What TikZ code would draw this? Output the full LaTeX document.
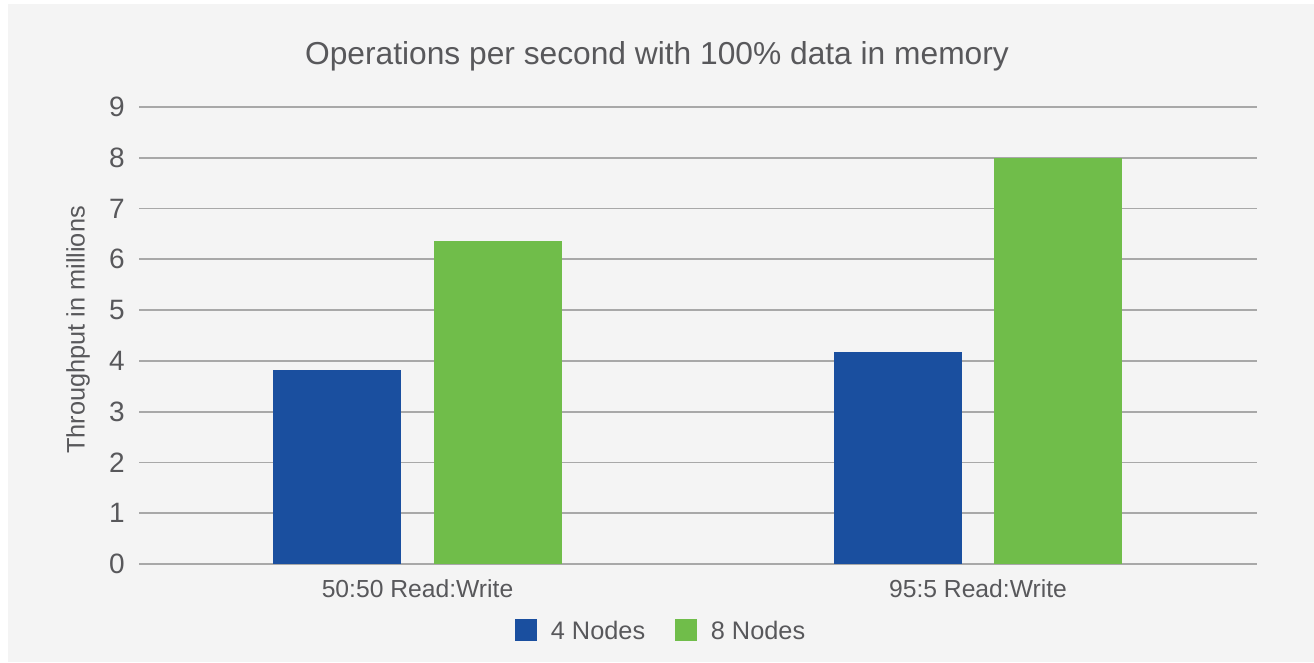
\documentclass[tikz,border=0pt]{standalone}
\usepackage{fontspec}
\setmainfont{Liberation Sans}
\usepackage{tikz}
\usetikzlibrary{positioning}

\definecolor{chartbg}{HTML}{F4F4F4}
\definecolor{gridgray}{HTML}{A8A8A8}
\definecolor{txtgray}{HTML}{58585B}
\definecolor{fourblue}{HTML}{1A4F9F}
\definecolor{eightgreen}{HTML}{70BD4A}

\begin{document}
\begin{tikzpicture}[x=0.75pt, y=-0.75pt]
\tikzset{
    %tekst osi
    tick/.style={
           font=\fontsize{21}{24}\selectfont,
           text=txtgray,
           inner sep=0pt,
           anchor=east},
    kategoria/.style={
           font=\fontsize{18.5}{22}\selectfont,
           text=txtgray,
           inner sep=0pt},
    legenda/.style={
           font=\fontsize{19}{22}\selectfont,
           text=txtgray,
           inner sep=0pt,
           anchor=west},
    siatka/.style={
           draw=gridgray,
           line width=1.4pt}
}
%tlo
\useasboundingbox (0,0) rectangle (1314,662);
\fill[white] (0,0) rectangle (1314,662);
\fill[chartbg] (8,4) rectangle (1314,662);

%tytul
\node(tytul) at (657,56) [font=\fontsize{23.8}{28}\selectfont, text=txtgray] {Operations per second with 100\% data in memory};

%os Y
\node(osy) at (78,330) [rotate=90, font=\fontsize{19}{22}\selectfont, text=txtgray] {Throughput in millions};

%siatka i slupki
\begin{scope}[shift={(0,564)}, y=38.085pt]
\foreach \v in {0,...,9}{
    \draw[siatka] (139,\v) -- (1257,\v);
    \node(t\v) [tick] at (125,\v) {\v};
}
\fill[fourblue]   (273,0) rectangle (401,3.82);
\fill[eightgreen] (434,0) rectangle (562,6.36);
\fill[fourblue]   (834,0) rectangle (962,4.17);
\fill[eightgreen] (994,0) rectangle (1122,8.0);
\end{scope}

%kategorie
\node(kat1) at (417.5,589) [kategoria] {50:50 Read:Write};
\node(kat2) at (978,589)   [kategoria] {95:5 Read:Write};

%legenda
\node(kw1) at (526,630) [fill=fourblue, minimum size=16.5pt, inner sep=0pt] {};
\node(l1)  [legenda, right=10pt of kw1] {4 Nodes};
\node(kw2) at (686,630) [fill=eightgreen, minimum size=16.5pt, inner sep=0pt] {};
\node(l2)  [legenda, right=10pt of kw2] {8 Nodes};
\end{tikzpicture}
\end{document}
